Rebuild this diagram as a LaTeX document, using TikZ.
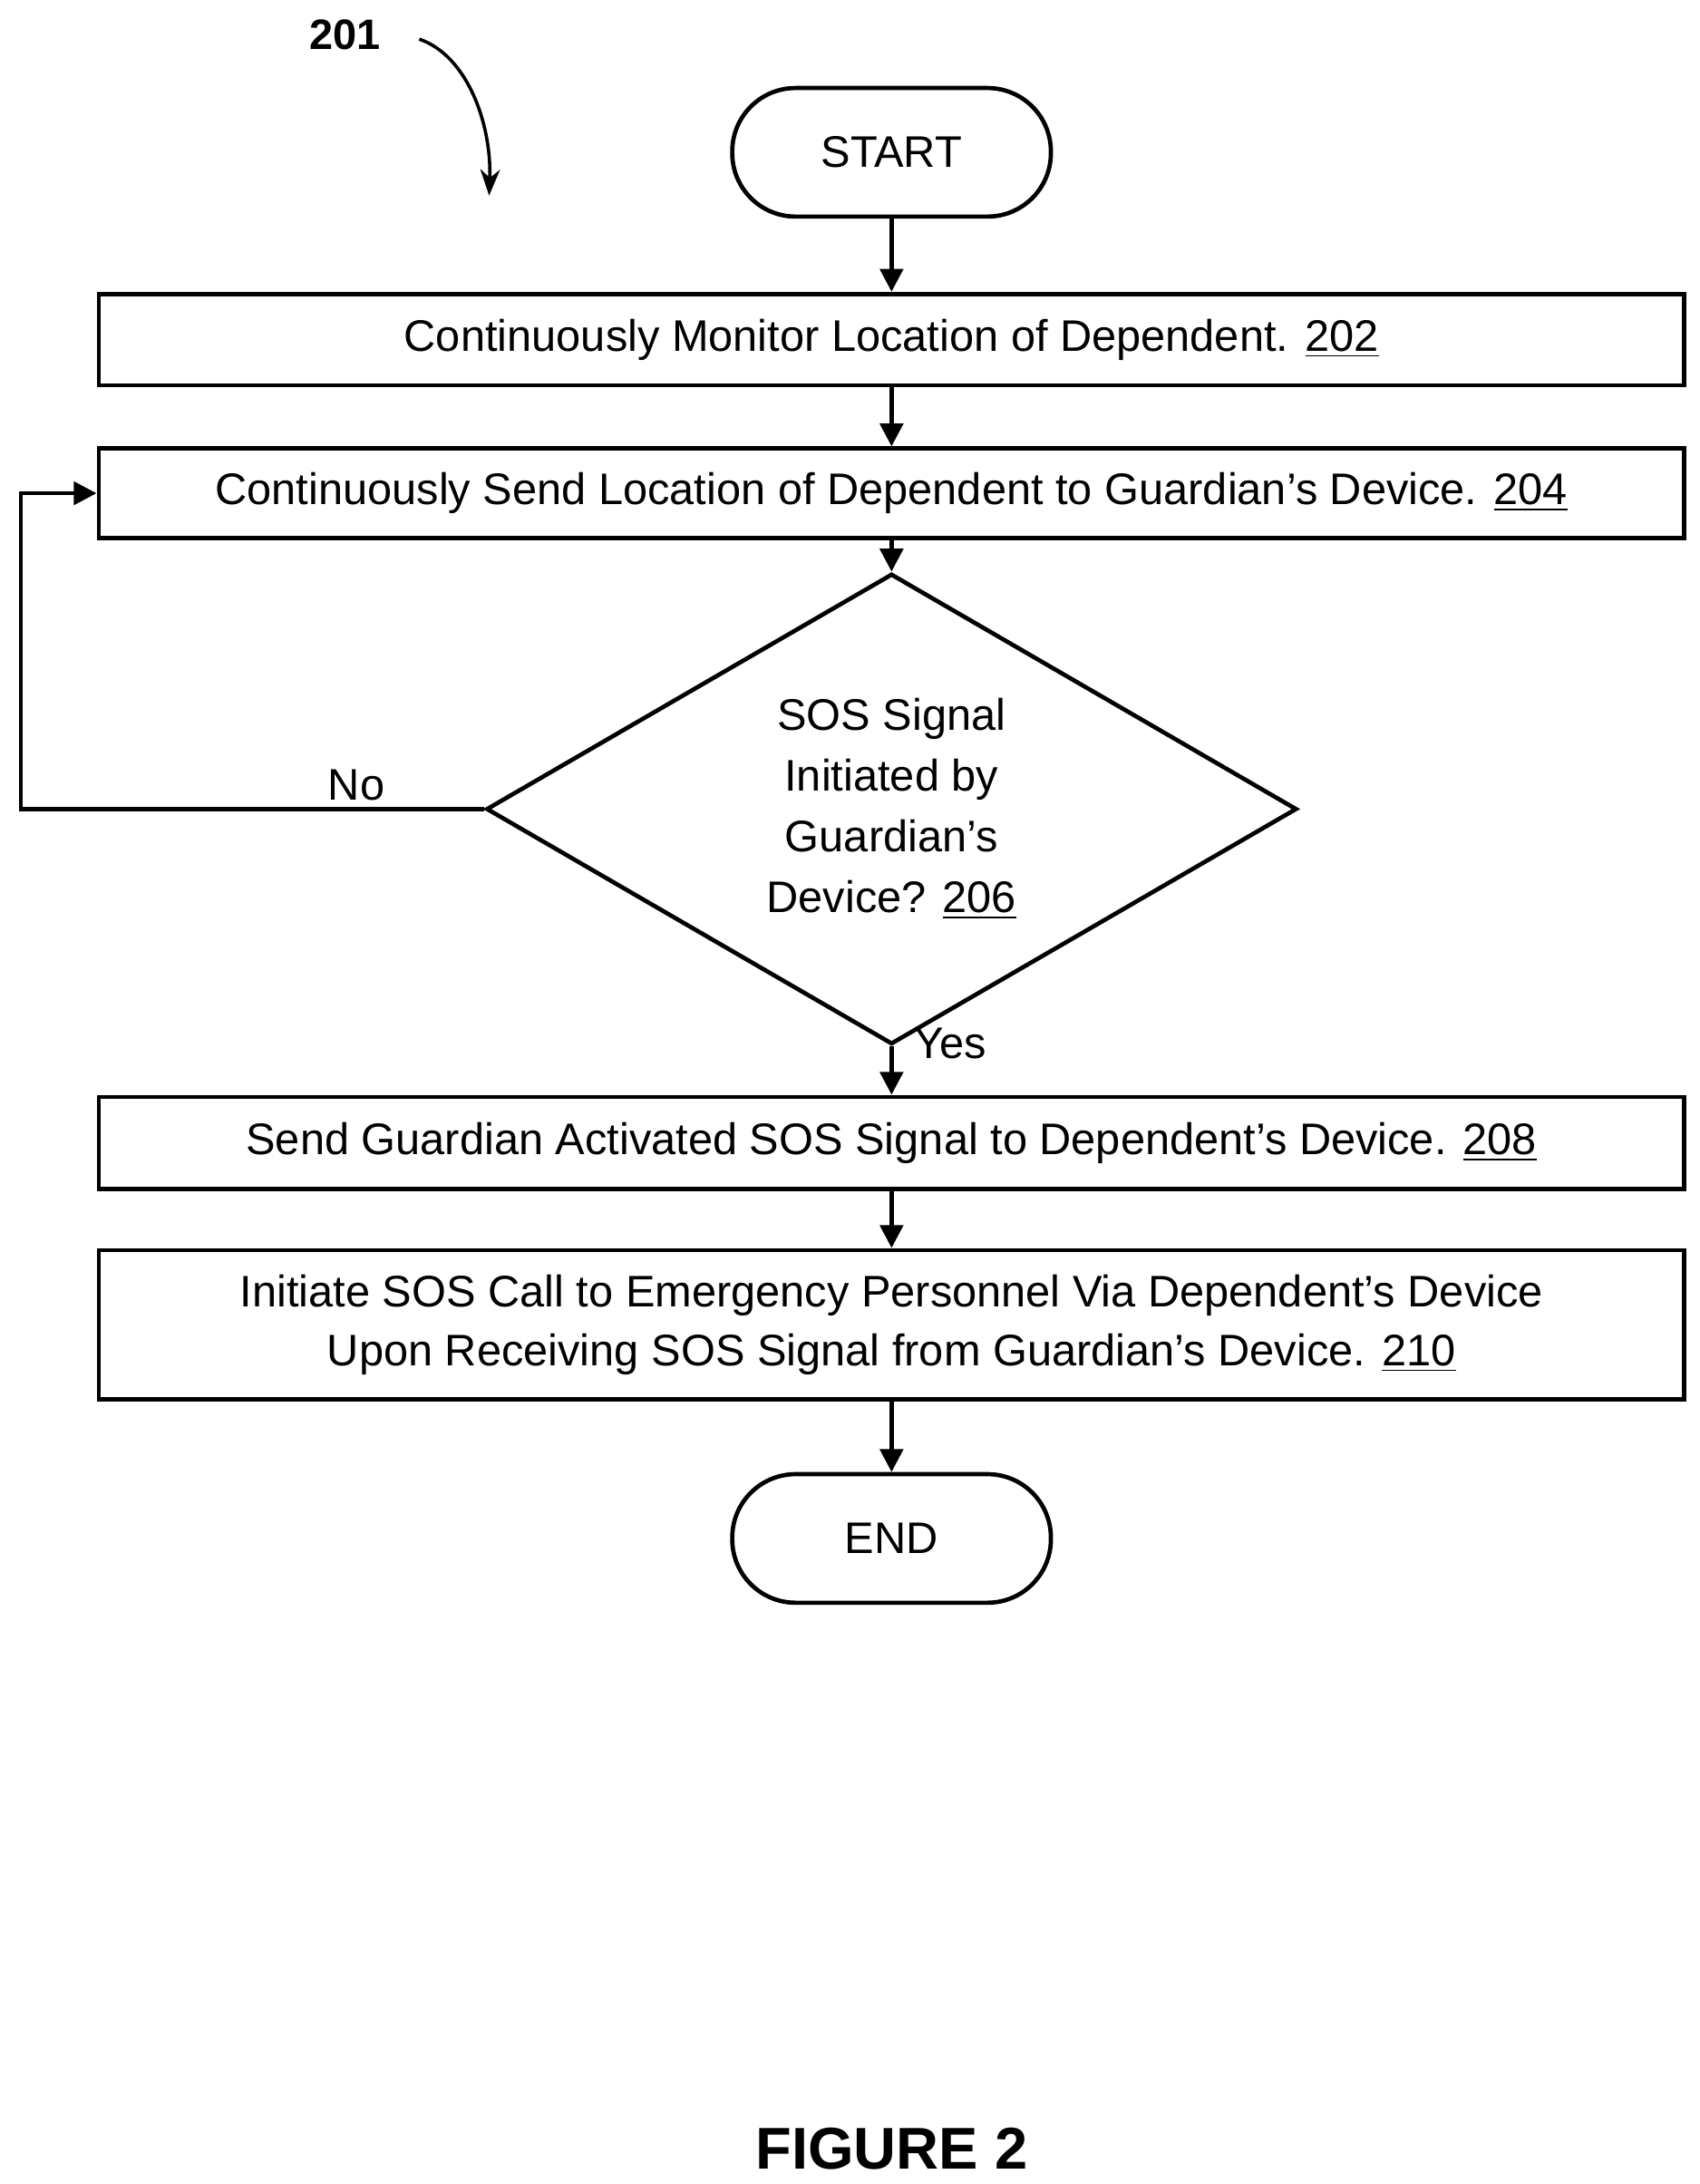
\documentclass[tikz,border=0pt]{standalone}
\usepackage{fontspec}
\setmainfont{Liberation Sans}
\usetikzlibrary{shapes.geometric,arrows.meta}
\tikzset{
  procbox/.style={draw, line width=1.3pt, minimum width=17.02cm, align=center, font=\fontsize{13.5}{18}\selectfont, inner sep=0pt},
  term/.style={draw, line width=1.3pt, rounded corners=0.68cm, minimum width=3.42cm, minimum height=1.38cm, font=\fontsize{13.5}{18}\selectfont},
  flow/.style={-{Triangle[length=7pt,width=7pt]}, line width=1.3pt}
}
\begin{document}
\begin{tikzpicture}[x=0.015cm, y=-0.015cm]
\useasboundingbox (0,0) rectangle (1216,1563);
\node[font=\bfseries\fontsize{13}{15}\selectfont] (lbl) at (247,25) {201};
\coordinate (ctail) at (300,28);
\coordinate (chead) at (350,140);
\draw[-{Stealth[length=8pt]}, line width=1pt] (ctail) .. controls (335,40) and (352,90) .. (chead);
\node[term] (start) at (638,109) {START};
\node[procbox, minimum height=0.98cm] (s202) at (638,243) {Continuously Monitor Location of Dependent. \underline{202}};
\node[procbox, minimum height=0.96cm] (s204) at (638,353) {Continuously Send Location of Dependent to Guardian's Device. \underline{204}};
\node[diamond, draw, line width=1.3pt, minimum width=8.7cm, minimum height=4.43cm, inner sep=0pt, align=center, font=\fontsize{13.5}{18.5}\selectfont] (d206) at (638,579) {SOS Signal\\Initiated by\\Guardian's\\Device? \underline{206}};
\node[procbox, minimum height=0.99cm] (s208) at (638,818) {Send Guardian Activated SOS Signal to Dependent's Device. \underline{208}};
\node[procbox, minimum height=1.6cm] (s210) at (638,948) {Initiate SOS Call to Emergency Personnel Via Dependent's Device\\Upon Receiving SOS Signal from Guardian's Device. \underline{210}};
\node[term] (end) at (638,1101) {END};
\draw[flow] (start) -- (s202);
\draw[flow] (s202) -- (s204);
\draw[flow] (s204) -- (d206);
\draw[flow] (d206) -- (s208);
\draw[flow] (s208) -- (s210);
\draw[flow] (s210) -- (end);
\draw[flow] (d206.west) -- (15,579) |- (s204.west);
\node[font=\fontsize{13.5}{18}\selectfont] (no) at (255,562) {No};
\node[font=\fontsize{13.5}{18}\selectfont] (yes) at (680,747) {Yes};
\node[font=\bfseries\fontsize{18}{20}\selectfont] (fig) at (638,1538) {FIGURE 2};
\end{tikzpicture}
\end{document}
